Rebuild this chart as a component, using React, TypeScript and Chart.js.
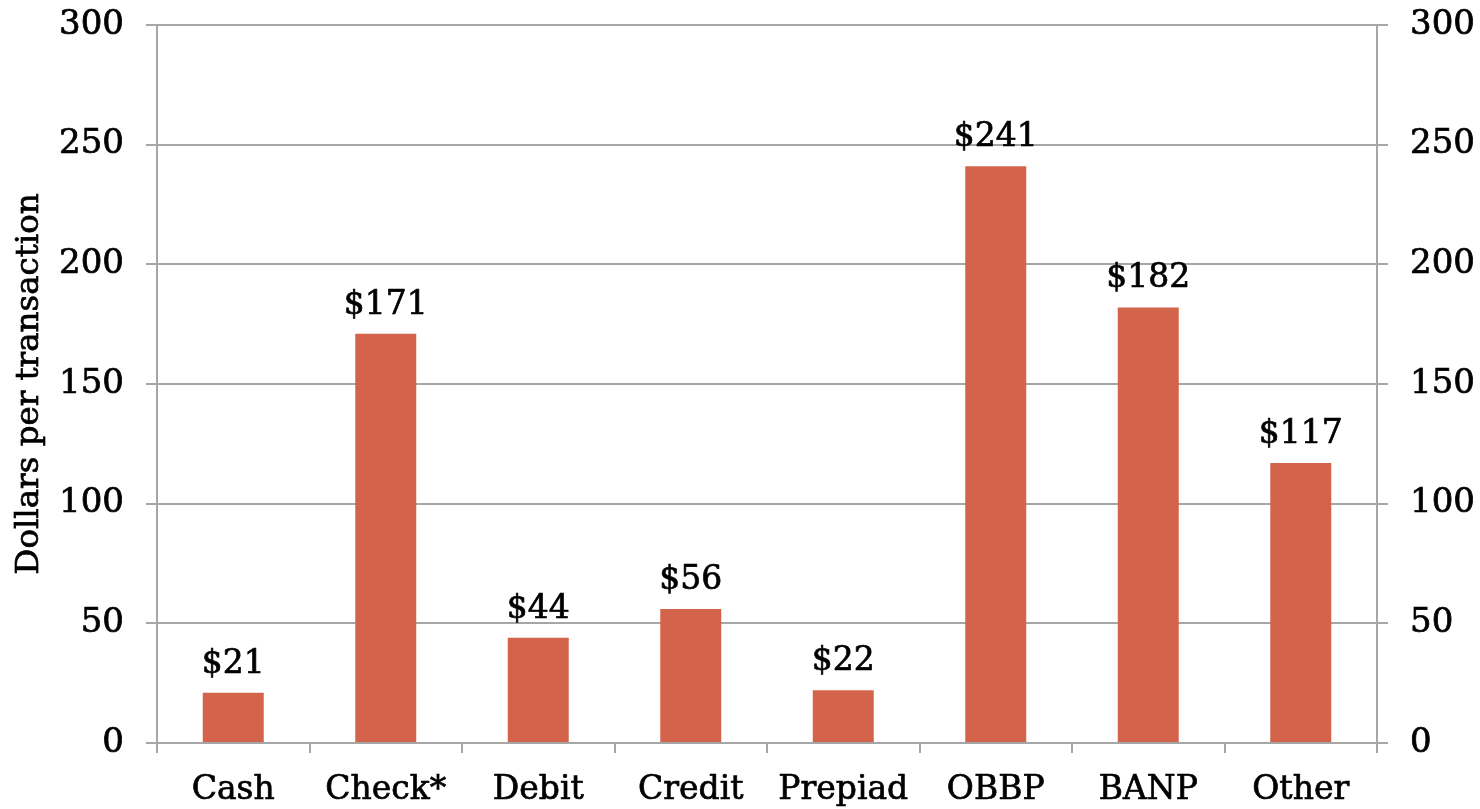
import React, { useEffect, useRef } from "react";
import { Chart, registerables } from "chart.js";

Chart.register(...registerables);

const categories = ["Cash", "Check*", "Debit", "Credit", "Prepiad", "OBBP", "BANP", "Other"];
const values = [21, 171, 44, 56, 22, 241, 182, 117];
const yTitle = "Dollars per transaction";
const FONT = "'DejaVu Serif', 'Liberation Serif', serif";
const STROKE = 0.7;

const labelPlugin = {
  id: "barLabels",
  afterDatasetsDraw(chart: any) {
    const ctx = chart.ctx;
    const meta = chart.getDatasetMeta(0);
    ctx.save();
    ctx.font = `33px ${FONT}`;
    ctx.fillStyle = "#000";
    ctx.strokeStyle = "#000";
    ctx.lineWidth = STROKE;
    ctx.textAlign = "center";
    ctx.textBaseline = "alphabetic";
    meta.data.forEach((bar: any, i: number) => {
      const t = "$" + values[i];
      ctx.fillText(t, bar.x, bar.y - 20);
      ctx.strokeText(t, bar.x, bar.y - 20);
    });
    // y-axis title
    const area = chart.chartArea;
    ctx.font = `32.5px ${FONT}`;
    ctx.translate(30, (area.top + area.bottom) / 2);
    ctx.rotate(-Math.PI / 2);
    ctx.textBaseline = "middle";
    ctx.fillText(yTitle, 0, 0);
    ctx.strokeText(yTitle, 0, 0);
    ctx.restore();
  },
};

const noPad = (w: number | null, h: number | null) => (s: any) => {
  if (w !== null) s.width = w;
  if (h !== null) s.height = h;
  s.paddingTop = 0;
  s.paddingBottom = 0;
  s.paddingLeft = 0;
  s.paddingRight = 0;
};

export default function App() {
  const ref = useRef<HTMLCanvasElement>(null);
  useEffect(() => {
    const grid = "#a6a6a6";
    const tickFont = { family: FONT, size: 34 };
    const chart = new Chart(ref.current!, {
      type: "bar",
      data: {
        labels: categories,
        datasets: [
          {
            data: values,
            backgroundColor: "#D3644B",
            barPercentage: 0.4,
            categoryPercentage: 1,
          },
        ],
      },
      plugins: [labelPlugin],
      options: {
        animation: false,
        responsive: true,
        maintainAspectRatio: false,
        layout: { padding: { top: 25, left: 0, right: 0, bottom: 0 } },
        plugins: { legend: { display: false }, tooltip: { enabled: false } },
        scales: {
          x: {
            grid: { display: true, drawOnChartArea: false, color: grid, lineWidth: 2, tickLength: 10, offset: true },
            border: { display: true, color: grid, width: 2 },
            ticks: { color: "#000", font: { family: FONT, size: 33 }, padding: 18, maxRotation: 0, textStrokeColor: "#000", textStrokeWidth: STROKE },
            afterFit: noPad(null, 66),
          },
          y: {
            position: "left",
            min: 0,
            max: 300,
            grid: { color: grid, lineWidth: 2, tickLength: 11 },
            border: { display: true, color: grid, width: 2 },
            ticks: { stepSize: 50, color: "#000", font: tickFont, padding: 22, textStrokeColor: "#000", textStrokeWidth: STROKE },
            afterFit: noPad(157, null),
          },
          y2: {
            position: "right",
            min: 0,
            max: 300,
            grid: { drawOnChartArea: false, color: grid, lineWidth: 2, tickLength: 11 },
            border: { display: true, color: grid, width: 2 },
            ticks: { stepSize: 50, color: "#000", font: tickFont, padding: 22, textStrokeColor: "#000", textStrokeWidth: STROKE },
            afterFit: noPad(103, null),
          },
        },
      },
    });
    return () => chart.destroy();
  }, []);
  return (
    <div style={{ position: "fixed", left: 0, top: 0, width: 1480, height: 809, background: "#fff" }}>
      <canvas ref={ref} />
    </div>
  );
}
